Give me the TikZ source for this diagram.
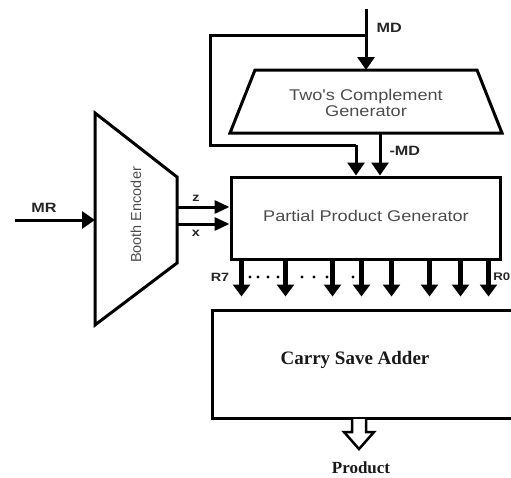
\documentclass[tikz,border=0pt]{standalone}
\usepackage{fontspec}
\setmainfont{Liberation Serif}
\setsansfont{Liberation Sans}
\newfontfamily\widesans[FakeStretch=1.17]{Liberation Sans}
\newfontfamily\labsans[FakeStretch=1.2]{Liberation Sans}
\usetikzlibrary{arrows.meta}

\tikzset{
	wire/.style={line width=3pt},
	sig/.style={wire,-{Triangle[width=17pt,length=13pt]}},
	rsig/.style={line width=4.5pt,-{Triangle[width=17pt,length=12pt]}},
	zx/.style={wire,-{Triangle[width=13pt,length=15pt]}},
	blk/.style={draw,line width=3pt,inner sep=0pt},
	blktext/.style={text=black!70,font=\widesans\fontsize{15.5}{18}\selectfont,align=center},
	lab/.style={text=black!85,font=\labsans\bfseries\fontsize{13.5}{15}\selectfont},
	rlab/.style={text=black!85,font=\labsans\bfseries\fontsize{12}{14}\selectfont}
}

\begin{document}
\begin{tikzpicture}[x=1pt,y=-1pt]
	\useasboundingbox (0,0) rectangle (511,477);
	% multiplicand and its complement
	\coordinate (mdin) at (366,9);
	\coordinate (mdsplit) at (366,35);
	\node[lab,anchor=west] (mdlab) at (373,28) {MD};
	\draw[wire] (255,70) -- (477,70) -- (502,133) -- (230,133) -- cycle;
	\node[blktext] (tcg) at (366,103) {Two's Complement\\[-2pt]Generator};
	\coordinate (tcgtop) at (366,70);
	\coordinate (tcgbot) at (380,133);
	\draw[sig] (mdin) -- (tcgtop);
	% partial product generator
	\node[blk,minimum width=269pt,minimum height=82pt] (ppg) at (365.5,218) {};
	\node[blktext] (ppgtext) at (366,216) {Partial Product Generator};
	\coordinate (byp1) at (210,35);
	\coordinate (byp2) at (210,145);
	\coordinate (byp3) at (356,145);
	\draw[wire] (mdsplit) -- (byp1) -- (byp2) -- (byp3);
	\draw[sig] (byp3) -- (byp3 |- ppg.north);
	\draw[sig] (tcgbot) -- (tcgbot |- ppg.north);
	\node[lab,anchor=west] (negmd) at (386,151) {-MD};
	% booth encoder
	\draw[wire] (95,113) -- (177,177) -- (177,263) -- (95,325) -- cycle;
	\node[blktext,rotate=90,font=\sffamily\fontsize{14.5}{16}\selectfont] (booth) at (136,215) {Booth Encoder};
	\coordinate (mrin) at (15,220);
	\coordinate (bein) at (95,220);
	\draw[sig] (mrin) -- (bein);
	\node[lab] (mrlab) at (44,208) {MR};
	\coordinate (zout) at (177,207);
	\coordinate (xout) at (177,224);
	\draw[zx] (zout) -- (zout -| ppg.west);
	\draw[zx] (xout) -- (xout -| ppg.west);
	\node[rlab] (zlab) at (196,198) {z};
	\node[rlab] (xlab) at (196,233) {x};
	% carry save adder
	\node[blk,minimum width=301pt,minimum height=108pt] (csa) at (362.5,364) {};
	\node[font=\bfseries\fontsize{19}{21}\selectfont,text=black!90] (csatext) at (355,360) {Carry Save Adder};
	\foreach \d in {12,56,103,132,162,200,231,259}
		\draw[rsig,shorten >=12pt] ([xshift=\d pt]ppg.south west) -- ([xshift=\d pt]ppg.south west |- csa.north);
	\node[rlab] (r7) at (220,277) {R7};
	\node[rlab,anchor=east,inner xsep=0pt,font=\labsans\bfseries\fontsize{11}{13}\selectfont] (r0) at (510.5,277) {R0};
	\foreach \x in {250,258,268,278,302,314,327,353}
		\fill (\x,277) circle (1.6pt);
	% result
	\draw[line width=2.5pt,fill=white] (352,419) -- (352,432) -- (344,432) -- (359,449) -- (374,432) -- (366,432) -- (366,419);
	\node[font=\bfseries\fontsize{17}{19}\selectfont,text=black!90] (prod) at (361,468) {Product};
\end{tikzpicture}
\end{document}
